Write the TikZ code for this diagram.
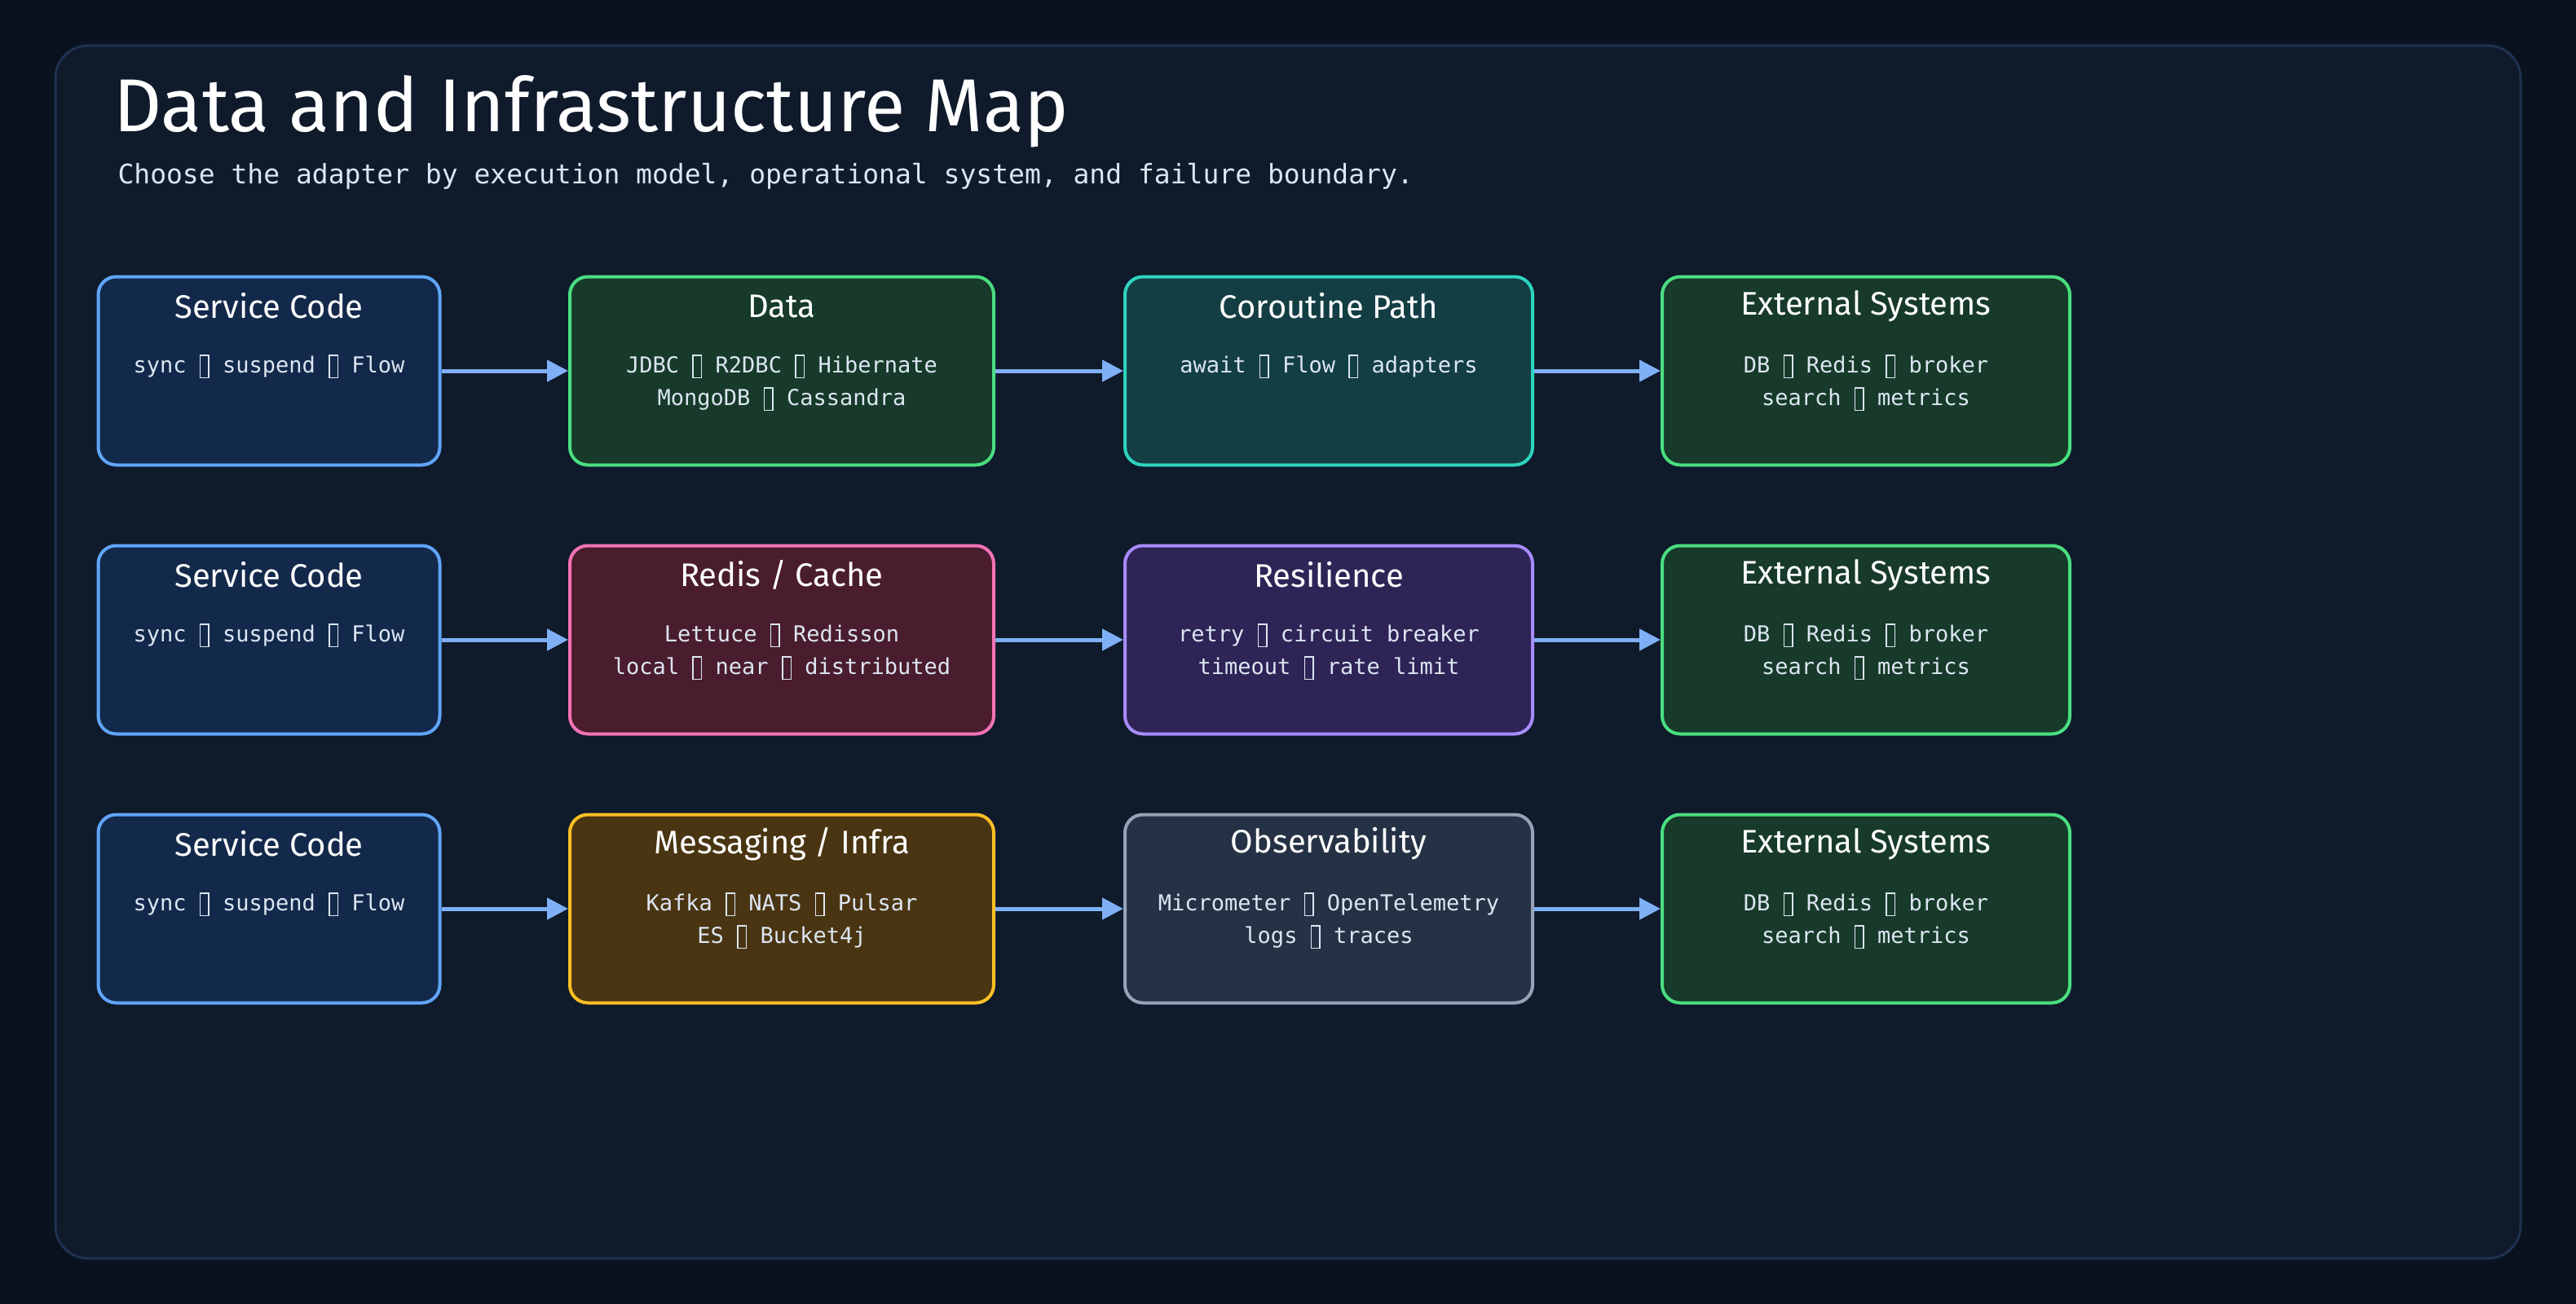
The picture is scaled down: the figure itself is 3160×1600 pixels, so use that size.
\documentclass[tikz,border=0pt]{standalone}
\usepackage{fontspec}
\setmainfont{Fira Sans}
\newfontfamily\monofont{DejaVu Sans Mono}
\usetikzlibrary{positioning,arrows.meta}
\definecolor{bgc}{HTML}{0A1220}
\definecolor{panelc}{HTML}{0F1A2B}
\definecolor{panelb}{HTML}{1E3250}
\definecolor{txtc}{HTML}{DCE6F2}
\definecolor{arrc}{HTML}{7FB0F5}
\definecolor{bluef}{HTML}{13294B}\definecolor{blueb}{HTML}{60A5FA}
\definecolor{greenf}{HTML}{173A2A}\definecolor{greenb}{HTML}{4ADE80}
\definecolor{tealf}{HTML}{133E44}\definecolor{tealb}{HTML}{2DD4BF}
\definecolor{redf}{HTML}{4A1D2E}\definecolor{redb}{HTML}{F472B6}
\definecolor{purpf}{HTML}{2E2456}\definecolor{purpb}{HTML}{A78BFA}
\definecolor{ambf}{HTML}{4A3512}\definecolor{ambb}{HTML}{FBBF24}
\definecolor{slatef}{HTML}{253245}\definecolor{slateb}{HTML}{94A3B8}
\tikzset{
  blk/.style={draw, rounded corners=22pt, line width=4pt, minimum height=231pt, inner sep=0},
  svc/.style={blk, fill=bluef, draw=blueb},
  ext/.style={blk, fill=greenf, draw=greenb},
  ttl/.style={text=white, font=\fontsize{40}{48}\selectfont},
  sub/.style={text=txtc, font=\monofont\fontsize{27}{40}\selectfont, align=center},
  flow/.style={draw=arrc, line width=5pt, -{Triangle[length=26pt,width=26pt]}}
}
\newcommand\tofu{{\setlength\fboxsep{0pt}\setlength\fboxrule{1.5pt}\raisebox{-5pt}{\fbox{\rule{0pt}{26pt}\hspace{9pt}}}}}
% box: name, x-center, y-center, width, style, title, lines
\newcommand\blkbox[7]{%
  \node[#5, minimum width=#4pt] (#1) at (#2,#3) {};
  \node[ttl, below=38pt of #1.north, anchor=center] (#1-t) {#6};
  \node[sub, below=94pt of #1.north, anchor=north] (#1-s) {#7};
}
\begin{document}
\begin{tikzpicture}[x=1pt,y=-1pt]
\fill[bgc] (0,0) rectangle (3160,1600);
\useasboundingbox (0,0) rectangle (3160,1600);
\draw[panelb, fill=panelc, line width=3pt, rounded corners=40pt] (68,56) rectangle (3092,1544);
\node[anchor=west, text=white, font=\fontsize{92}{100}\selectfont] (title) at (136,137) {Data and Infrastructure Map};
\node[anchor=west, text=txtc, font=\monofont\fontsize{33}{40}\selectfont] (subtitle) at (141,216) {Choose the adapter by execution model, operational system, and failure boundary.};
% row 1
\blkbox{s1}{330}{455}{419}{svc}{Service Code}{sync \tofu{} suspend \tofu{} Flow}
\blkbox{d1}{959}{455}{520}{blk, fill=greenf, draw=greenb}{Data}{JDBC \tofu{} R2DBC \tofu{} Hibernate\\MongoDB \tofu{} Cassandra}
\blkbox{c1}{1630}{455}{500}{blk, fill=tealf, draw=tealb}{Coroutine Path}{await \tofu{} Flow \tofu{} adapters}
\blkbox{e1}{2289}{455}{500}{ext}{External Systems}{DB \tofu{} Redis \tofu{} broker\\search \tofu{} metrics}
% row 2
\blkbox{s2}{330}{785}{419}{svc}{Service Code}{sync \tofu{} suspend \tofu{} Flow}
\blkbox{d2}{959}{785}{520}{blk, fill=redf, draw=redb}{Redis / Cache}{Lettuce \tofu{} Redisson\\local \tofu{} near \tofu{} distributed}
\blkbox{c2}{1630}{785}{500}{blk, fill=purpf, draw=purpb}{Resilience}{retry \tofu{} circuit breaker\\timeout \tofu{} rate limit}
\blkbox{e2}{2289}{785}{500}{ext}{External Systems}{DB \tofu{} Redis \tofu{} broker\\search \tofu{} metrics}
% row 3
\blkbox{s3}{330}{1115}{419}{svc}{Service Code}{sync \tofu{} suspend \tofu{} Flow}
\blkbox{d3}{959}{1115}{520}{blk, fill=ambf, draw=ambb}{Messaging / Infra}{Kafka \tofu{} NATS \tofu{} Pulsar\\ES \tofu{} Bucket4j}
\blkbox{c3}{1630}{1115}{500}{blk, fill=slatef, draw=slateb}{Observability}{Micrometer \tofu{} OpenTelemetry\\logs \tofu{} traces}
\blkbox{e3}{2289}{1115}{500}{ext}{External Systems}{DB \tofu{} Redis \tofu{} broker\\search \tofu{} metrics}
\foreach \r in {1,2,3} {
  \draw[flow] (s\r.east) -- (d\r.west);
  \draw[flow] (d\r.east) -- (c\r.west);
  \draw[flow] (c\r.east) -- (e\r.west);
}
\end{tikzpicture}
\end{document}
